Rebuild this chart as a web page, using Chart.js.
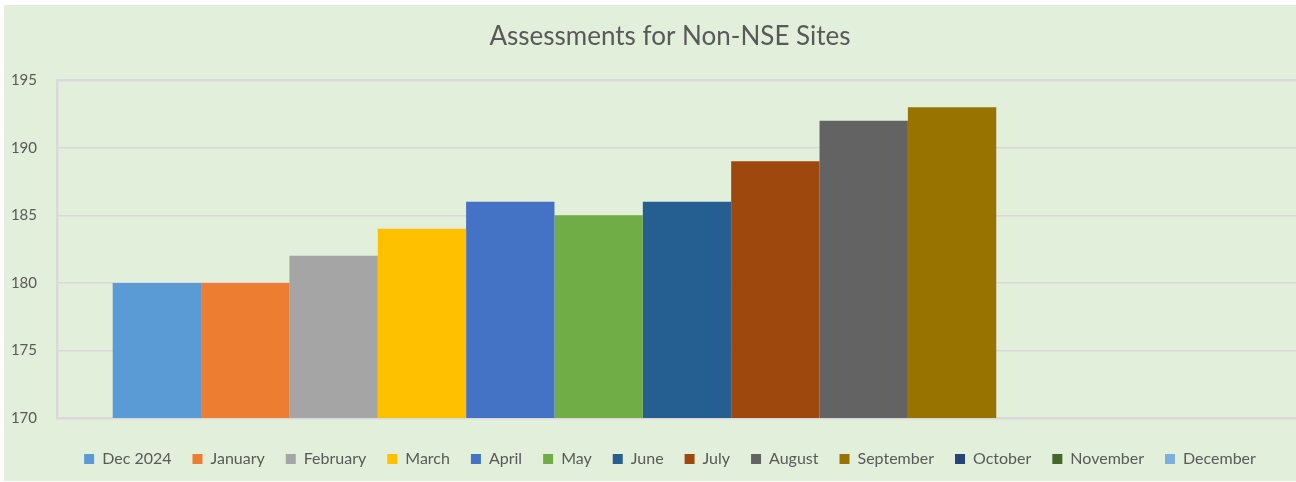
<!DOCTYPE html>
<html>
<head>
<meta charset="utf-8"/>
<style>
  html,body{margin:0;padding:0;background:#fff;overflow:hidden;width:1296px;height:482px;}
  #wrap{position:absolute;left:4px;top:5px;width:1332px;height:476px;background:#E2EFDA;}
</style>
</head>
<body>
<div id="wrap"><canvas id="c" width="1332" height="476"></canvas></div>
<script src="https://cdn.jsdelivr.net/npm/chart.js@4.4.0/dist/chart.umd.min.js"></script>
<script>
const categories = ["Non-NSE Sites"];
const seriesNames = ["Dec 2024","January","February","March","April","May","June","July","August","September","October","November","December"];
const seriesValues = [180, 180, 182, 184, 186, 185, 186, 189, 192, 193, null, null, null];
const seriesColors = ["#5B9BD5","#ED7D31","#A5A5A5","#FFC000","#4472C4","#70AD47","#255E91","#9E480E","#636363","#997300","#264478","#43682B","#7CAFDD"];
const yTicks = [170, 175, 180, 185, 190, 195];

const TXT = "#595959";
const LINE = "#D9D9D9";
const FONT = "Lato";

const datasets = seriesNames.map((name, i) => ({
  label: name,
  data: [seriesValues[i]],
  backgroundColor: seriesColors[i],
  borderWidth: 0,
  barPercentage: 1,
  categoryPercentage: 0.9116
}));

new Chart(document.getElementById("c"), {
  type: "bar",
  data: { labels: categories, datasets },
  options: {
    responsive: false,
    animation: false,
    layout: { padding: { left: 0, right: 0, top: 0, bottom: 4 } },
    plugins: {
      title: {
        display: true,
        text: "Assessments for Non-NSE Sites",
        color: TXT,
        font: { family: FONT, size: 26, weight: "normal" },
        padding: { top: 16, bottom: 28 }
      },
      legend: {
        position: "bottom",
        labels: {
          color: TXT,
          font: { family: FONT, size: 16 },
          boxWidth: 10,
          boxHeight: 10,
          padding: 21
        }
      },
      tooltip: { enabled: false }
    },
    scales: {
      x: {
        ticks: { display: false },
        grid: { display: false },
        border: { display: true, color: LINE, width: 2.5 },
        afterFit: (s) => { s.height = 12; }
      },
      y: {
        min: yTicks[0],
        max: yTicks[yTicks.length - 1],
        afterBuildTicks: (s) => { s.ticks = yTicks.map(v => ({ value: v })); },
        ticks: { color: TXT, font: { family: FONT, size: 15 }, padding: 20 },
        grid: {
          color: LINE,
          drawTicks: false,
          lineWidth: (ctx) => ctx.index === yTicks.length - 1 ? 2.5 : 1.5
        },
        border: { display: true, color: LINE, width: 2.5 },
        afterFit: (s) => { s.width = 53; }
      },
      // empty right-hand strip so the plot stops short of the frame edge
      yRight: {
        position: "right",
        display: true,
        min: yTicks[0],
        max: yTicks[yTicks.length - 1],
        ticks: { display: false },
        grid: { display: false, drawOnChartArea: false },
        border: { display: false },
        afterFit: (s) => { s.width = 19; }
      }
    }
  }
});
</script>
</body>
</html>
